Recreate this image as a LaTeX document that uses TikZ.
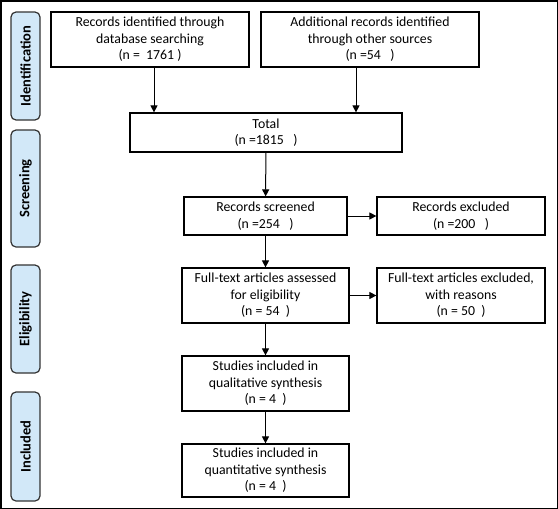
\documentclass[tikz,border=0pt]{standalone}
\usepackage{fontspec}
\setmainfont{Carlito}
\usetikzlibrary{arrows.meta}
\definecolor{fasecol}{HTML}{D2E8F8}
\tikzset{
  casella/.style={draw, line width=1.2pt, inner sep=0pt, align=center, font=\fontsize{13.8}{16.5}\selectfont},
  fase/.style={draw=black!80, fill=fasecol, line width=1.2pt, rounded corners=5pt, inner sep=0pt,
    minimum width=29, font=\bfseries\fontsize{14.5}{15}\selectfont},
  freccia/.style={->, line width=1pt, >={Triangle[length=7pt,width=7pt]}}
}
\begin{document}
\begin{tikzpicture}[x=1pt, y=-1pt]
    % Cornice
    \useasboundingbox (0,0) rectangle (558,509);
    \draw[line width=1.5pt] (0.75,0.75) rectangle (557.25,508.25);

    % Fasi a sinistra
    \node[fase, minimum height=108] (ident) at (25.5,66) {\rotatebox{90}{Identification}};
    \node[fase, minimum height=117] (screen) at (25.5,188.5) {\rotatebox{90}{Screening}};
    \node[fase, minimum height=108] (elig) at (25.5,319) {\rotatebox{90}{Eligibility}};
    \node[fase, minimum height=109] (incl) at (25.5,446.5) {\rotatebox{90}{Included}};

    % Caselle
    \node[casella, minimum width=198, minimum height=55] (db) at (150,39.5)
        {Records identified through\\database searching\\{}(n =~~1761~)};
    \node[casella, minimum width=218, minimum height=55] (altre) at (370,39.5)
        {Additional records identified\\through other sources\\{}(n =54~~~)};
    \node[casella, minimum width=272, minimum height=39] (totale) at (266,132.5)
        {Total\\{}(n =1815~~~)};
    \node[casella, minimum width=163, minimum height=38] (screened) at (265.5,216)
        {Records screened\\{}(n =254~~~)};
    \node[casella, minimum width=168, minimum height=38] (escluse) at (461,216)
        {Records excluded\\{}(n =200~~~)};
    \node[casella, minimum width=167, minimum height=55] (fulltext) at (265.5,295.5)
        {Full-text articles assessed\\for eligibility\\{}(n = 54~~)};
    \node[casella, minimum width=168, minimum height=55] (ftescl) at (461,295.5)
        {Full-text articles excluded,\\with reasons\\{}(n = 50~~)};
    \node[casella, minimum width=167, minimum height=55] (qual) at (265.5,383.5)
        {Studies included in\\qualitative synthesis\\{}(n = 4~~)};
    \node[casella, minimum width=167, minimum height=53] (quant) at (265.5,470.5)
        {Studies included in\\quantitative synthesis\\{}(n = 4~~)};

    % Frecce
    \draw[freccia] ([xshift=4]db.south) -- ([xshift=4]db.south |- totale.north);
    \draw[freccia] ([xshift=-14]altre.south) -- ([xshift=-14]altre.south |- totale.north);
    \draw[freccia] (totale) -- (screened);
    \draw[freccia] (screened) -- (escluse);
    \draw[freccia] (screened) -- (fulltext);
    \draw[freccia] (fulltext) -- (ftescl);
    \draw[freccia] (fulltext) -- (qual);
    \draw[freccia] (qual) -- (quant);

\end{tikzpicture}
\end{document}
